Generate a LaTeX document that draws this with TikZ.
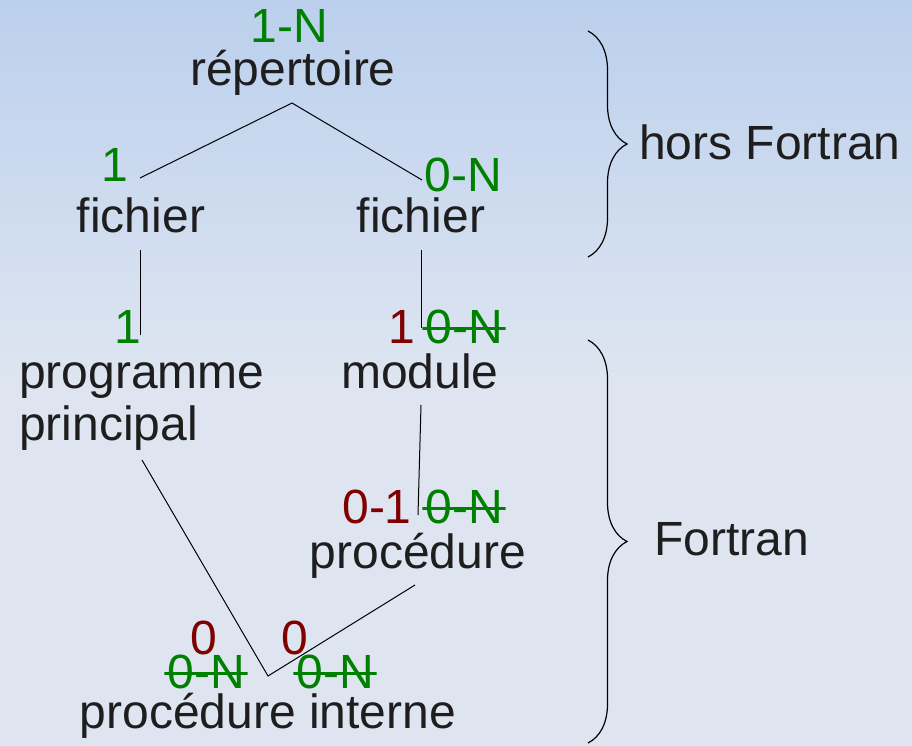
\documentclass[tikz,border=0pt]{standalone}
\usepackage{fontspec}
\setmainfont{Liberation Sans}
\usetikzlibrary{decorations.pathreplacing}
\definecolor{vert}{RGB}{0,128,0}
\definecolor{rouge}{RGB}{128,0,0}
\definecolor{texte}{RGB}{30,30,30}
\definecolor{fondhaut}{RGB}{187,208,237}
\definecolor{fondbas}{RGB}{222,229,241}
\begin{document}
\begin{tikzpicture}[x=1pt,y=-1pt]
	\tikzstyle{terme}=[text=texte,font=\fontsize{48}{53}\selectfont,inner sep=0pt,anchor=base]
	\tikzstyle{card}=[terme,text=vert]
	\tikzstyle{cardr}=[terme,text=rouge]
	\tikzstyle{barre}=[card,inner xsep=3pt,path picture={\draw[vert,line width=3pt] ([yshift=-2pt]path picture bounding box.west) -- ([yshift=-2pt]path picture bounding box.east);}]
	\tikzstyle{lien}=[draw=black,line width=1pt]
	\tikzstyle{accolade}=[draw=black,line width=1.2pt,decorate,decoration={brace,amplitude=39pt,aspect=0.5}]

	% fond
	\useasboundingbox (0,0) rectangle (912,746);
	\shade[top color=fondhaut,bottom color=fondbas] (0,0) rectangle (912,380);
	\fill[fondbas] (0,379) rectangle (912,746);

	\begin{scope}
	  \node [card] (nrep) at (289,43) {1-N};
	  \node [terme] (rep) at (293,86) {répertoire};
	  \node [card] (nfg) at (115,182) {1};
	  \node [card] (nfd) at (463,192) {0-N};
	  \node [terme] (fg) at (141,232) {fichier};
	  \node [terme] (fd) at (421,232) {fichier};
	  \node [terme,anchor=base west] (hf) at (639,160) {hors Fortran};

	  \node [card] (npp) at (128,343) {1};
	  \node [cardr] (nmod) at (402,343) {1};
	  \node [barre] (nmodb) at (464,343) {0-N};
	  \node [terme,anchor=base west] (pp1) at (19,388) {programme};
	  \node [terme,anchor=base west] (pp2) at (19,440) {principal};
	  \node [terme] (mod) at (420,388) {module};

	  \node [cardr] (nproc) at (377,523) {0-1};
	  \node [barre] (nprocb) at (464,523) {0-N};
	  \node [terme] (proc) at (418,568) {procédure};
	  \node [terme,anchor=base west] (fo) at (654,555) {Fortran};

	  \node [cardr] (nig) at (204,654) {0};
	  \node [cardr] (nid) at (295,654) {0};
	  \node [barre] (nigb) at (206,688) {0-N};
	  \node [barre] (nidb) at (335,688) {0-N};
	  \node [terme] (pi) at (268,728) {procédure interne};

	  % extremites des liens
	  \coordinate (crep) at (292,103);
	  \coordinate (cfg) at (140,178);
	  \coordinate (cfd) at (422,180);
	  \coordinate (cfgb) at (140,250);
	  \coordinate (cpp) at (140,335);
	  \coordinate (cfdb) at (421,250);
	  \coordinate (cmod) at (421,328);
	  \coordinate (cmodb) at (421,405);
	  \coordinate (cproc) at (418,515);
	  \coordinate (cppb) at (142,460);
	  \coordinate (cpi) at (268,676);
	  \coordinate (cprocb) at (415,585);

	  \path[lien] (crep) -- (cfg);
	  \path[lien] (crep) -- (cfd);
	  \path[lien] (cfgb) -- (cpp);
	  \path[lien] (cfdb) -- (cmod);
	  \path[lien] (cmodb) -- (cproc);
	  \path[lien] (cppb) -- (cpi) -- (cprocb);

	  % accolades
	  \coordinate (ah1) at (588,31);
	  \coordinate (ah2) at (588,257);
	  \coordinate (ab1) at (588,340);
	  \coordinate (ab2) at (588,743);
	  \draw[accolade] (ah1) -- (ah2);
	  \draw[accolade] (ab1) -- (ab2);
	\end{scope}
\end{tikzpicture}
\end{document}
